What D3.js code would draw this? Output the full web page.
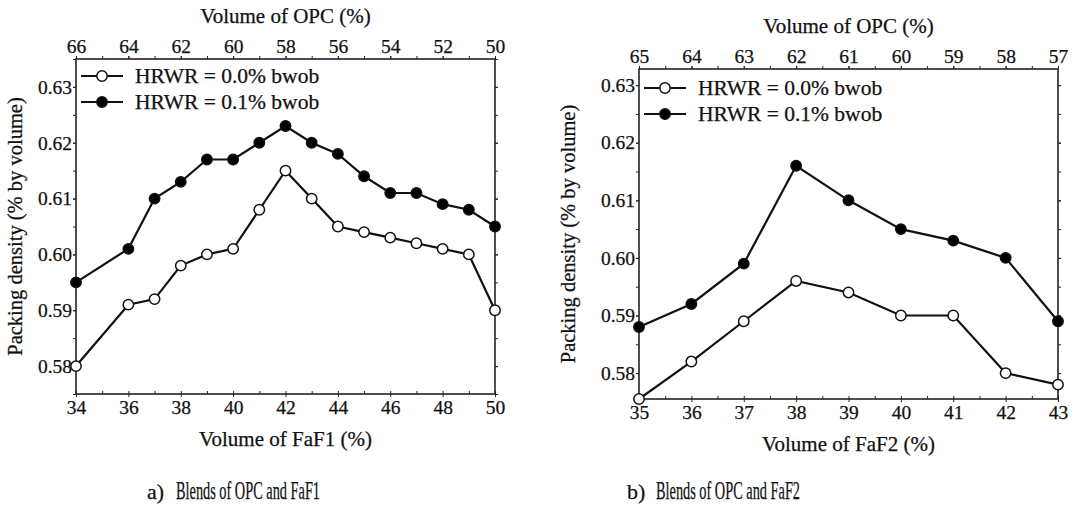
<!DOCTYPE html>
<html>
<head>
<meta charset="utf-8">
<script src="https://cdn.jsdelivr.net/npm/d3@7"></script>
<style>
  body { margin: 0; background: #fff; }
  text { font-family: "Liberation Serif", "Times New Roman", serif; fill: #111; stroke: #111; stroke-width: 0.25px; }
</style>
</head>
<body>
<svg id="chart"></svg>
<script>
// panel a) FaF1
const faf1 = [34, 36, 37, 38, 39, 40, 41, 42, 43, 44, 45, 46, 47, 48, 49, 50];
const faf1Hrwr00 = [0.580, 0.591, 0.592, 0.598, 0.600, 0.601, 0.608, 0.615, 0.610, 0.605, 0.604, 0.603, 0.602, 0.601, 0.600, 0.590];
const faf1Hrwr01 = [0.595, 0.601, 0.610, 0.613, 0.617, 0.617, 0.620, 0.623, 0.620, 0.618, 0.614, 0.611, 0.611, 0.609, 0.608, 0.605];
const faf1Ticks = [34, 36, 38, 40, 42, 44, 46, 48, 50];
const opc1Ticks = [66, 64, 62, 60, 58, 56, 54, 52, 50];

// panel b) FaF2
const faf2 = [35, 36, 37, 38, 39, 40, 41, 42, 43];
const faf2Hrwr00 = [0.5755, 0.582, 0.589, 0.596, 0.594, 0.590, 0.590, 0.580, 0.578];
const faf2Hrwr01 = [0.588, 0.592, 0.599, 0.616, 0.610, 0.605, 0.603, 0.600, 0.589];
const faf2Ticks = [35, 36, 37, 38, 39, 40, 41, 42, 43];
const opc2Ticks = [65, 64, 63, 62, 61, 60, 59, 58, 57];

const densityTicks = [0.58, 0.59, 0.60, 0.61, 0.62, 0.63];
const legendLabels = ['HRWR = 0.0% bwob', 'HRWR = 0.1% bwob'];

const W = 1073, H = 521;
const FONT = '"Liberation Serif", "Times New Roman", serif';
const svg = d3.select('#chart').attr('width', W).attr('height', H);
svg.append('rect').attr('width', W).attr('height', H).attr('fill', '#fff');

function drawPanel(p) {
  const g = svg.append('g').style('font-family', FONT);
  const x = d3.scaleLinear().domain(p.xDomain).range([p.left, p.right]);
  const xTop = d3.scaleLinear().domain(p.topDomain).range([p.left, p.right]);
  const y = d3.scaleLinear().domain(p.yDomain).range([p.bottom, p.top]);

  const minorX = d3.range(p.xDomain[0], p.xDomain[1] + 0.001, p.xMinor);
  const minorTop = d3.range(p.topDomain[1], p.topDomain[0] + 0.001, p.xMinor);
  const minorY = d3.range(0.575, p.yDomain[1], 0.005).filter(v => v >= p.yDomain[0] - 1e-6);

  function tidy(sel) {
    sel.attr('font-family', null).attr('font-size', null);
    sel.select('.domain').remove();
    sel.selectAll('line').attr('stroke', '#222').attr('stroke-width', 1);
    sel.selectAll('text').style('font-family', FONT).style('font-size', '19.5px').attr('fill', '#111');
  }

  // minor ticks
  g.append('g').attr('transform', `translate(0,${p.bottom})`)
    .call(d3.axisTop(x).tickValues(minorX).tickSize(3).tickFormat('')).call(tidy);
  g.append('g').attr('transform', `translate(0,${p.top})`)
    .call(d3.axisTop(xTop).tickValues(minorTop).tickSize(3).tickFormat('')).call(tidy);
  g.append('g').attr('transform', `translate(${p.left},0)`)
    .call(d3.axisLeft(y).tickValues(minorY).tickSize(3).tickFormat('')).call(tidy);
  g.append('g').attr('transform', `translate(${p.right},0)`)
    .call(d3.axisRight(y).tickValues(minorY).tickSize(3).tickFormat('')).call(tidy);

  // major axes
  g.append('g').attr('transform', `translate(0,${p.bottom})`)
    .call(d3.axisBottom(x).tickValues(p.xTicks).tickSize(3).tickPadding(3).tickFormat(d3.format('d')))
    .call(tidy);
  g.append('g').attr('transform', `translate(0,${p.top})`)
    .call(d3.axisTop(xTop).tickValues(p.topTicks).tickSize(3).tickPadding(3).tickFormat(d3.format('d')))
    .call(tidy);
  g.append('g').attr('transform', `translate(${p.left},0)`)
    .call(d3.axisLeft(y).tickValues(densityTicks).tickSize(3).tickPadding(1).tickFormat(d3.format('.2f')))
    .call(tidy);
  g.append('g').attr('transform', `translate(${p.right},0)`)
    .call(d3.axisRight(y).tickValues(densityTicks).tickSize(3).tickFormat(''))
    .call(tidy);

  // frame
  g.append('rect')
    .attr('x', p.left).attr('y', p.top)
    .attr('width', p.right - p.left).attr('height', p.bottom - p.top)
    .attr('fill', 'none').attr('stroke', '#222').attr('stroke-width', 1.6);

  // series
  const line = d3.line().x(d => x(d[0])).y(d => y(d[1]));
  const series = [
    { vals: p.s00, fill: '#fff' },
    { vals: p.s01, fill: '#000' }
  ];
  series.forEach(s => {
    const pts = p.xs.map((v, i) => [v, s.vals[i]]);
    g.append('path').datum(pts)
      .attr('d', line).attr('fill', 'none')
      .attr('stroke', '#111').attr('stroke-width', 2.2);
    g.selectAll(null).data(pts).enter().append('circle')
      .attr('cx', d => x(d[0])).attr('cy', d => y(d[1])).attr('r', 5.2)
      .attr('fill', s.fill).attr('stroke', '#111').attr('stroke-width', 1.5);
  });

  // legend
  series.forEach((s, i) => {
    const ly = p.legendY + i * 26;
    g.append('line')
      .attr('x1', p.legendX).attr('x2', p.legendX + 42)
      .attr('y1', ly).attr('y2', ly)
      .attr('stroke', '#111').attr('stroke-width', 2.2);
    g.append('circle').attr('cx', p.legendX + 21).attr('cy', ly).attr('r', 5.2)
      .attr('fill', s.fill).attr('stroke', '#111').attr('stroke-width', 1.5);
    g.append('text').attr('x', p.legendX + 54).attr('y', ly + 7)
      .style('font-size', '21.5px').text(legendLabels[i]);
  });

  // axis titles
  const cx = (p.left + p.right) / 2;
  g.append('text').attr('x', cx).attr('y', p.top - 36)
    .attr('text-anchor', 'middle').style('font-size', '21px').text('Volume of OPC (%)');
  g.append('text').attr('x', cx).attr('y', p.bottom + 52)
    .attr('text-anchor', 'middle').style('font-size', '21px').text(p.xTitle);
  g.append('text')
    .attr('transform', `translate(${p.yLabelX},${(p.top + p.bottom) / 2}) rotate(-90)`)
    .attr('text-anchor', 'middle').style('font-size', '20.5px').text('Packing density (% by volume)');

  // caption
  g.append('text').attr('x', p.capX).attr('y', 499).style('font-size', '22px').text(p.capTag);
  g.append('text').attr('x', p.capX + 29).attr('y', 499).style('font-size', '25px')
    .attr('textLength', 144).attr('lengthAdjust', 'spacingAndGlyphs').text(p.caption);
}

drawPanel({
  left: 76, right: 495, top: 59, bottom: 394,
  xDomain: [34, 50], topDomain: [66, 50], yDomain: [0.575, 0.635],
  xTicks: faf1Ticks, topTicks: opc1Ticks, xMinor: 1,
  xs: faf1, s00: faf1Hrwr00, s01: faf1Hrwr01,
  legendX: 81, legendY: 76, yLabelX: 22,
  xTitle: 'Volume of FaF1 (%)', capX: 147, capTag: 'a)', caption: 'Blends of OPC and FaF1'
});

drawPanel({
  left: 639, right: 1058, top: 69, bottom: 399,
  xDomain: [35, 43], topDomain: [65, 57], yDomain: [0.5755, 0.6328],
  xTicks: faf2Ticks, topTicks: opc2Ticks, xMinor: 0.5,
  xs: faf2, s00: faf2Hrwr00, s01: faf2Hrwr01,
  legendX: 644, legendY: 88, yLabelX: 575,
  xTitle: 'Volume of FaF2 (%)', capX: 627, capTag: 'b)', caption: 'Blends of OPC and FaF2'
});
</script>
</body>
</html>
